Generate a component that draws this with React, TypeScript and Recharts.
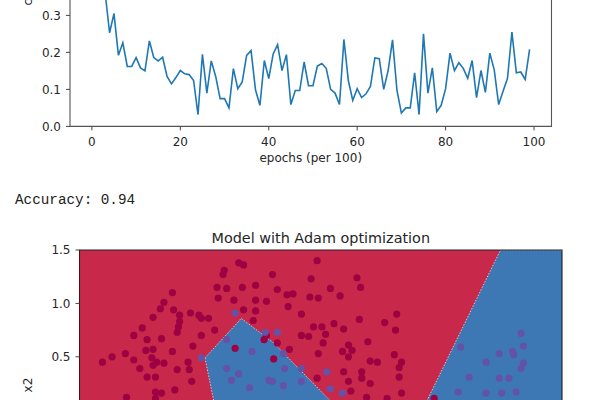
import {
  LineChart,
  Line,
  ComposedChart,
  Area,
  Scatter,
  XAxis,
  YAxis,
  ReferenceArea,
} from "recharts";

// cost every 100 epochs (first values run off the top of the crop)
const costs = [
  0.7, 0.55, 0.45, 0.36, 0.253, 0.305, 0.192, 0.226, 0.162, 0.162,
  0.186, 0.158, 0.15, 0.231, 0.186, 0.177, 0.187, 0.135, 0.115, 0.132,
  0.151, 0.142, 0.14, 0.124, 0.032, 0.195, 0.09, 0.177, 0.135, 0.075,
  0.075, 0.05, 0.156, 0.102, 0.12, 0.192, 0.205, 0.099, 0.057, 0.178,
  0.129, 0.196, 0.221, 0.151, 0.194, 0.059, 0.097, 0.097, 0.174, 0.11,
  0.11, 0.163, 0.17, 0.157, 0.1, 0.09, 0.059, 0.235, 0.124, 0.07,
  0.102, 0.078, 0.088, 0.108, 0.185, 0.183, 0.1, 0.151, 0.234, 0.097,
  0.036, 0.05, 0.05, 0.145, 0.032, 0.25, 0.09, 0.158, 0.04, 0.057,
  0.102, 0.198, 0.151, 0.172, 0.157, 0.13, 0.178, 0.078, 0.151, 0.092,
  0.198, 0.153, 0.059, 0.095, 0.13, 0.255, 0.145, 0.147, 0.127, 0.208,
];
const epochTicks = [0, 20, 40, 60, 80, 100];
// only the ticks that sit inside the cropped view
const costTicks = [0, 0.1, 0.2, 0.3];

// decision regions (x, low, high) – blue class
const centerEdgeX = [-0.46, -0.19, -0.16, 0.1, 0.56, 1.55];
const centerEdgeLow = [0.49, -1, -1, -1, -1, -1];
const centerEdgeHigh = [0.49, 0.82, 0.86, 0.64, 0.11, -1];
const rightEdgeX = [0.91, 1.99, 2.5];
const rightEdgeLow = [-1, -1, -1];
const rightEdgeHigh = [-1, 1.5, 1.5];
const planeX = [-1.5, 2.5];

const x2Ticks = [0.5, 1, 1.5];

// label 0 points
const class0: [number, number][] = [
  [-1.31, 0.45], [-1.23, 0.5], [-1.12, 0.53], [-1.05, 0.47], [-1.11, 0.12],
  [-1.0, 0.39], [-0.98, 0.77], [-1.05, 0.7], [-0.94, 0.66], [-0.95, 0.56],
  [-0.89, 0.57], [-0.9, 0.49], [-0.86, 0.45], [-0.89, 0.42], [-0.8, 0.44],
  [-0.94, 0.31], [-0.87, 0.31], [-0.87, 0.17], [-0.82, 0.16], [-0.87, 0.11],
  [-0.89, 0.87], [-0.83, 0.95], [-0.8, 1.01], [-0.73, 1.1], [-0.72, 0.94],
  [-0.67, 0.89], [-0.67, 0.83], [-0.68, 0.78], [-0.69, 0.73], [-0.82, 0.67],
  [-0.73, 0.55], [-0.69, 0.38], [-0.71, 0.19], [-0.6, 0.45], [-0.59, 0.38],
  [-0.57, 0.27], [-0.56, 0.6], [-0.58, 0.91], [-0.51, 0.89], [-0.49, 0.86],
  [-0.43, 0.86], [-0.49, 0.7], [-0.38, 0.75],
  [-0.18, 1.38], [-0.14, 1.36], [-0.3, 1.31], [-0.31, 1.27], [0.1, 1.27],
  [-0.36, 1.15], [-0.28, 1.14], [-0.15, 1.15], [-0.04, 1.17], [0.14, 1.13],
  [0.22, 1.08], [0.27, 1.09], [-0.35, 1.05], [-0.22, 1.03], [-0.04, 1.03],
  [0.05, 1.02], [0.23, 0.97], [-0.14, 0.94], [-0.04, 0.93], [-0.06, 0.84],
  [0.05, 0.7], [0.03, 0.66], [0.14, 0.63], [-0.21, 0.58], [0.11, 0.48],
  [0.24, 0.57],
  [0.47, 1.4], [0.42, 1.23], [0.8, 1.24], [0.83, 1.15], [0.58, 1.14],
  [0.66, 1.07], [0.41, 1.06], [0.48, 1.05], [0.34, 0.9], [1.13, 0.9],
  [0.82, 0.85], [1.03, 0.82], [1.12, 0.75], [0.44, 0.78], [0.51, 0.78],
  [0.61, 0.81], [0.69, 0.76], [0.54, 0.71], [0.34, 0.7], [0.4, 0.69],
  [0.52, 0.63], [0.89, 0.64], [0.73, 0.61], [0.76, 0.56], [0.68, 0.55],
  [0.73, 0.5], [0.91, 0.46], [0.97, 0.45], [1.11, 0.52], [1.17, 0.45],
  [1.15, 0.4], [0.48, 0.53], [0.69, 0.36], [0.84, 0.36], [0.73, 0.27],
  [0.84, 0.3], [0.91, 0.25], [1.15, 0.31], [1.17, 0.16], [0.47, 0.3],
  [0.75, 0.18], [0.88, 0.12], [1.05, 0.11], [1.44, 0.11],
];

// label 1 points
const class1: [number, number][] = [
  [-0.21, 0.91], [-0.49, 0.49], [0.14, 0.73], [0.04, 0.73], [-0.28, 0.66],
  [-0.07, 0.55], [-0.28, 0.39], [-0.18, 0.34], [-0.24, 0.28], [0.07, 0.28],
  [0.1, 0.27], [-0.09, 0.21], [0.19, 0.23], [0.2, 0.39], [0.34, 0.39],
  [0.34, 0.27], [0.55, 0.36], [0.58, 0.2], [0.68, 0.16], [0.19, 0.53],
  [1.66, 0.59], [1.87, 0.45], [1.73, 0.31], [1.64, 0.17], [1.87, 0.16],
  [1.98, 0.53], [2.09, 0.55], [2.1, 0.52], [2.16, 0.72], [2.18, 0.6],
  [2.18, 0.44], [2.16, 0.39], [1.98, 0.3], [2.06, 0.3], [2.0, 0.16],
  [2.12, 0.17],
];

const costData = costs.map((c, i) => ({ epoch: i, cost: c }));
const planeData = planeX.map((x) => ({ x, band: [-1, 1.5] }));
const centerData = centerEdgeX.map((x, i) => ({
  x,
  band: [centerEdgeLow[i], centerEdgeHigh[i]],
}));
const rightData = rightEdgeX.map((x, i) => ({
  x,
  band: [rightEdgeLow[i], rightEdgeHigh[i]],
}));
const class0Data = class0.map(([x, y]) => ({ x, y }));
const class1Data = class1.map(([x, y]) => ({ x, y }));

const FONT = "'DejaVu Sans', sans-serif";
const tick = { fontSize: 12, fill: "#262626", fontFamily: FONT };
const RED = "#c8294a";
const BLUE = "#3d78b5";

// eslint-disable-next-line @typescript-eslint/no-explicit-any
function dot(color: string) {
  // eslint-disable-next-line @typescript-eslint/no-explicit-any
  return (p: any) => <circle cx={p.cx} cy={p.cy} r={3.6} fill={color} />;
}

export default function App() {
  return (
    <div
      style={{
        position: "fixed",
        left: 0,
        top: 0,
        width: 600,
        height: 400,
        overflow: "hidden",
        background: "#fff",
        fontFamily: FONT,
        color: "#262626",
      }}
    >
      {/* cost curve */}
      <div style={{ position: "absolute", left: 0, top: -150.4 }}>
        <LineChart
          width={600}
          height={316.4}
          data={costData}
          margin={{ top: 10, right: 48.5, bottom: 10, left: 20 }}
        >
          <XAxis
            dataKey="epoch"
            type="number"
            domain={[-4.95, 103.95]}
            ticks={epochTicks}
            allowDataOverflow
            axisLine={false}
            tickLine={{ stroke: "#444" }}
            tickSize={4}
            tickMargin={7}
            tick={tick}
            height={30}
          />
          <YAxis
            type="number"
            domain={[0, 0.72]}
            ticks={costTicks}
            tickFormatter={(v: number) => v.toFixed(1)}
            axisLine={false}
            tickLine={{ stroke: "#444" }}
            tickSize={4}
            tickMargin={5}
            tick={tick}
            width={50}
          />
          <Line
            type="linear"
            dataKey="cost"
            stroke="#1f77b4"
            strokeWidth={1.6}
            dot={false}
            activeDot={false}
            isAnimationActive={false}
          />
          <ReferenceArea
            x1={-4.95}
            x2={103.95}
            y1={0}
            y2={0.72}
            fill="none"
            stroke="#555"
            strokeWidth={1.1}
          />
        </LineChart>
      </div>
      <div
        style={{
          position: "absolute",
          left: 28,
          top: -7.5,
          fontSize: 12,
          lineHeight: "12px",
          whiteSpace: "nowrap",
          transform: "translate(-50%, -50%) rotate(-90deg)",
        }}
      >
        cost
      </div>
      <div
        style={{
          position: "absolute",
          left: 310.75,
          top: 157.9,
          fontSize: 12,
          lineHeight: "12px",
          whiteSpace: "nowrap",
          transform: "translate(-50%, -50%)",
        }}
      >
        epochs (per 100)
      </div>

      <div
        style={{
          position: "absolute",
          left: 15,
          top: 193,
          fontFamily: "'Liberation Mono', monospace",
          fontSize: 14.3,
          lineHeight: "14.3px",
          whiteSpace: "pre",
          color: "#222",
        }}
      >
        Accuracy: 0.94
      </div>

      {/* decision boundary */}
      <div
        style={{
          position: "absolute",
          left: 320.75,
          top: 238,
          fontSize: 14.4,
          lineHeight: "14.4px",
          whiteSpace: "nowrap",
          transform: "translate(-50%, -50%)",
        }}
      >
        Model with Adam optimization
      </div>
      <div
        style={{
          position: "absolute",
          left: 28,
          top: 385,
          fontSize: 12,
          lineHeight: "12px",
          whiteSpace: "nowrap",
          transform: "translate(-50%, -50%) rotate(-90deg)",
        }}
      >
        x2
      </div>
      <div style={{ position: "absolute", left: 0, top: 240 }}>
        <ComposedChart
          width={600}
          height={317}
          margin={{ top: 10, right: 38, bottom: 10, left: 29.5 }}
        >
          <XAxis
            dataKey="x"
            type="number"
            domain={[-1.5, 2.5]}
            ticks={[]}
            allowDataOverflow
            axisLine={false}
            tickLine={false}
            tick={false}
            height={30}
          />
          <YAxis
            dataKey="y"
            type="number"
            domain={[-1, 1.5]}
            ticks={x2Ticks}
            allowDataOverflow
            tickFormatter={(v: number) => v.toFixed(1)}
            axisLine={false}
            tickLine={{ stroke: "#444" }}
            tickSize={4}
            tickMargin={5}
            tick={tick}
            width={50}
          />
          <Area
            data={planeData}
            dataKey="band"
            type="linear"
            fill={RED}
            fillOpacity={1}
            stroke="none"
            dot={false}
            activeDot={false}
            isAnimationActive={false}
          />
          <Area
            data={centerData}
            dataKey="band"
            type="linear"
            fill={BLUE}
            fillOpacity={1}
            stroke="#eedde2"
            strokeWidth={0.8}
            strokeDasharray="1.5 1.5"
            dot={false}
            activeDot={false}
            isAnimationActive={false}
          />
          <Area
            data={rightData}
            dataKey="band"
            type="linear"
            fill={BLUE}
            fillOpacity={1}
            stroke="#eedde2"
            strokeWidth={0.8}
            strokeDasharray="1.5 1.5"
            dot={false}
            activeDot={false}
            isAnimationActive={false}
          />
          <Scatter
            data={class0Data}
            fill="#9e0142"
            shape={dot("#9e0142")}
            isAnimationActive={false}
          />
          <Scatter
            data={class1Data}
            fill="#6452a8"
            shape={dot("#6452a8")}
            isAnimationActive={false}
          />
          <ReferenceArea
            x1={-1.5}
            x2={2.5}
            y1={-1}
            y2={1.5}
            fill="none"
            stroke="#222"
            strokeWidth={1.1}
          />
        </ComposedChart>
      </div>
    </div>
  );
}
